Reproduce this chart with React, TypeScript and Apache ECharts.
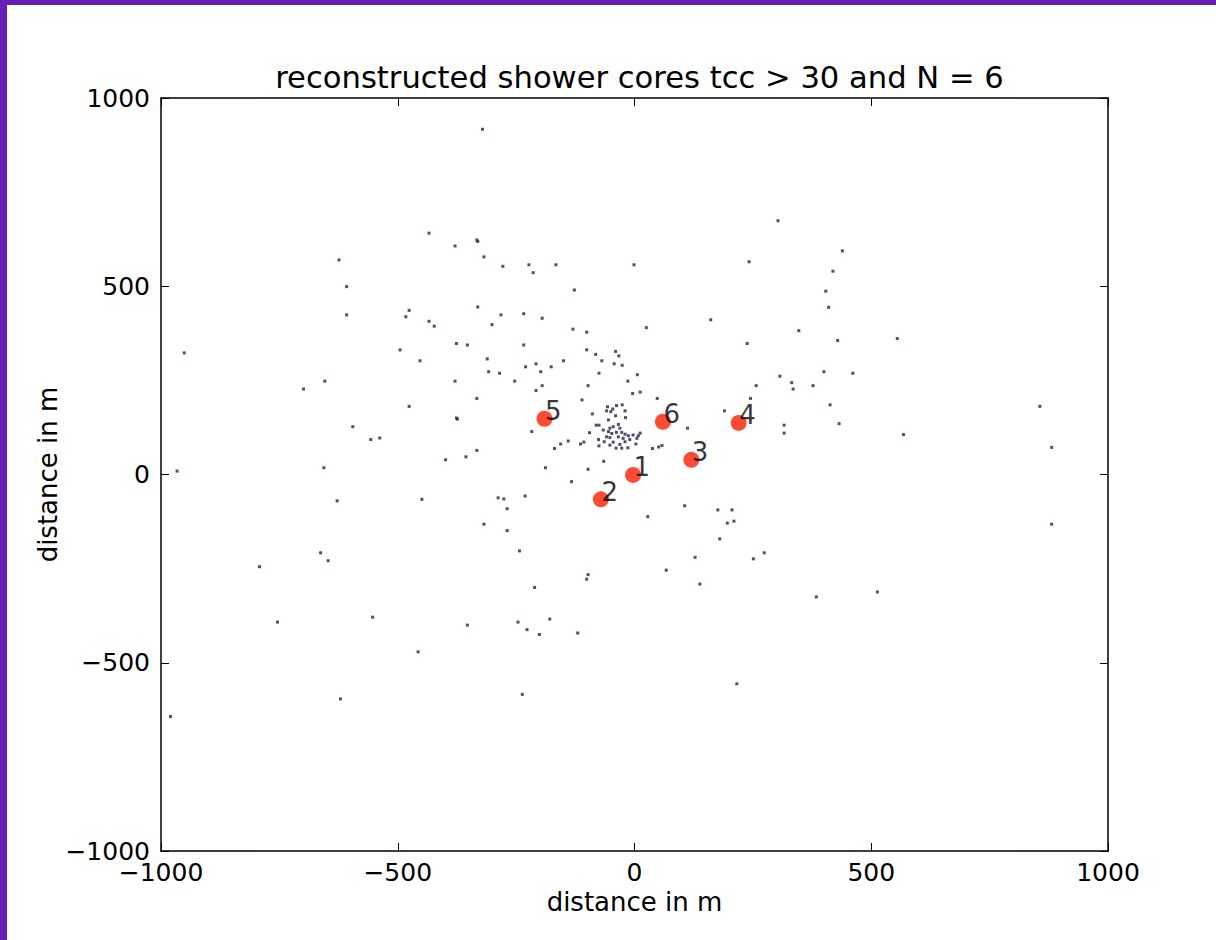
import React, { useEffect, useRef } from 'react';
import * as echarts from 'echarts';

const FONT = 'DejaVu Sans';

const titleText = 'reconstructed shower cores tcc > 30 and N = 6';
const xAxisName = 'distance in m';
const yAxisName = 'distance in m';
const tickValues = [-1000, -500, 0, 500, 1000];

// individual reconstructed shower cores (x, y in m)
const reconstructedCores: [number, number][] = [
  [-434, 641], [-379, 607], [-333, 623], [-331, 619], [-624, 570], [-608, 499], [-608, 424], [-476, 436],
  [-483, 419], [-434, 407], [-423, 394], [-331, 445], [-376, 348], [-353, 344], [-495, 331], [-951, 323],
  [-321, 917], [303, 674], [-318, 578], [-278, 553], [-223, 557], [-214, 536], [-166, 557], [-1, 557],
  [242, 565], [-127, 490], [-282, 424], [-234, 427], [-195, 415], [-301, 398], [-130, 386], [-101, 378],
  [25, 390], [161, 411], [347, 382], [-234, 344], [-101, 331], [-82, 319], [-40, 327], [-33, 315],
  [238, 348], [439, 594], [419, 540], [404, 487], [410, 444], [429, 356], [555, 361],
  [-453, 302], [-654, 248], [-699, 227], [-379, 248], [-333, 202], [-476, 181], [-374, 147], [-376, 150],
  [-595, 127], [-557, 93], [-538, 97], [-333, 64], [-356, 47], [-399, 39], [-966, 9], [-656, 18],
  [-628, -70], [-449, -66], [-663, -208], [-647, -229], [-792, -245],
  [400, 273], [461, 269], [332, 244], [335, 227], [377, 236], [413, 185], [432, 135], [568, 106],
  [856, 181], [881, 72], [881, -132], [384, -325], [513, -312],
  [-311, 307], [-69, 302], [-150, 302], [-208, 294], [-230, 286], [-176, 286], [-43, 294], [-26, 290],
  [-308, 273], [-285, 269], [-198, 273], [-75, 269], [6, 265], [-253, 248], [-14, 248], [-195, 236],
  [-208, 223], [-98, 236], [-4, 215], [12, 219], [-111, 198], [48, 202], [307, 261], [257, 236],
  [245, 202], [190, 169], [316, 131], [316, 110], [112, 123], [-217, 114], [-169, 69], [-156, 81],
  [-140, 89], [-114, 81], [-107, 86], [-65, 35], [-98, 14], [-188, 18], [-133, -19], [-231, -57],
  [-288, -62], [-276, -65], [-269, -91], [-318, -132], [-269, -149], [-243, -203], [-211, -300],
  [-101, -278], [-98, -266], [28, -112], [106, -83], [176, -94], [206, -94], [196, -129], [210, -124],
  [180, -171], [128, -220], [67, -254], [138, -291], [251, -224], [274, -208], [38, 69], [51, 73],
  [58, 77], [3, 81], [-19, 151],
  [-754, -392], [-553, -379], [-353, -400], [-457, -471], [-621, -596], [-980, -643],
  [-246, -392], [-179, -384], [-227, -412], [-201, -425], [-120, -421], [-237, -584], [216, -556],
  [-26, 185], [-38, 183], [-57, 180], [-46, 174], [-59, 169], [-50, 167], [-20, 169], [-89, 161],
  [-40, 156], [-55, 145], [-81, 131], [-75, 131], [-34, 133], [-45, 127], [-52, 123], [-31, 123],
  [-95, 111], [-66, 118], [-55, 114], [-48, 109], [-38, 112], [-27, 112], [-20, 107], [-13, 103],
  [-3, 105], [8, 103], [5, 96], [-59, 100], [-52, 98], [-34, 100], [-24, 96], [-76, 93],
  [-64, 87], [-45, 86], [-20, 87], [-10, 93], [-52, 78], [-31, 80], [-75, 76], [-39, 70],
  [-27, 70], [-14, 71], [12, 110],
];

// station positions (N = 6) with their labels
const stationLabels = ['1', '2', '3', '4', '5', '6'];
const stationX = [-3, -71, 120, 220, -190, 60];
const stationY = [-1, -66, 39, 137, 148, 140];

const minus = (v: number) => String(v).replace('-', '\u2212');

export default function App() {
  const ref = useRef<HTMLDivElement>(null);
  useEffect(() => {
    const chart = echarts.init(ref.current!, null, { renderer: 'svg' });
    const frameLine = { show: true, onZero: false, lineStyle: { color: '#000', width: 1.5 } };
    const tick = { show: true, inside: true, length: 8, lineStyle: { color: '#000', width: 1 } };
    const tickStyle = { color: '#000', fontSize: 25, fontFamily: FONT };
    const nameStyle = { color: '#000', fontSize: 26, fontFamily: FONT };
    chart.setOption({
      animation: false,
      backgroundColor: '#ffffff',
      textStyle: { fontFamily: FONT },
      title: {
        text: titleText,
        left: 634.5,
        top: 57,
        textAlign: 'center',
        textStyle: { color: '#000', fontSize: 30.6, fontWeight: 'normal', fontFamily: FONT },
      },
      grid: { left: 161, right: 108, top: 98, bottom: 89, containLabel: false },
      xAxis: [
        {
          type: 'value', min: tickValues[0], max: tickValues[tickValues.length - 1], interval: 500,
          position: 'bottom', axisLine: frameLine, axisTick: tick, splitLine: { show: false },
          axisLabel: { ...tickStyle, margin: 9, formatter: minus },
          name: xAxisName, nameLocation: 'middle', nameGap: 38, nameMoveOverlap: false,
          nameTextStyle: { ...nameStyle },
        },
        {
          type: 'value', min: tickValues[0], max: tickValues[tickValues.length - 1], interval: 500,
          position: 'top', axisLine: frameLine, axisTick: tick, splitLine: { show: false },
          axisLabel: { show: false },
        },
      ],
      yAxis: [
        {
          type: 'value', min: tickValues[0], max: tickValues[tickValues.length - 1], interval: 500,
          position: 'left', axisLine: frameLine, axisTick: tick, splitLine: { show: false },
          axisLabel: { ...tickStyle, margin: 11, formatter: minus },
          name: yAxisName, nameLocation: 'middle', nameGap: 100, nameMoveOverlap: false,
          nameTextStyle: { ...nameStyle },
        },
        {
          type: 'value', min: tickValues[0], max: tickValues[tickValues.length - 1], interval: 500,
          position: 'right', axisLine: frameLine, axisTick: tick, splitLine: { show: false },
          axisLabel: { show: false },
        },
      ],
      graphic: [
        { type: 'rect', shape: { x: 0, y: 0, width: 1216, height: 5 }, style: { fill: '#661fb2' }, silent: true },
        { type: 'rect', shape: { x: 0, y: 0, width: 7, height: 940 }, style: { fill: '#661fb2' }, silent: true },
      ],
      series: [
        {
          type: 'scatter',
          xAxisIndex: 0,
          yAxisIndex: 0,
          symbol: 'rect',
          symbolSize: 3,
          itemStyle: { color: '#23234c' },
          data: reconstructedCores,
          z: 2,
        },
        {
          type: 'scatter',
          xAxisIndex: 0,
          yAxisIndex: 0,
          symbol: 'circle',
          symbolSize: 16,
          itemStyle: { color: '#ff1e00' },
          data: stationLabels.map((n, i) => ({ name: n, value: [stationX[i], stationY[i]] })),
          label: {
            show: true,
            formatter: (p: any) => p.name,
            position: [8.5, 13.5],
            align: 'left',
            verticalAlign: 'bottom',
            color: '#000',
            fontSize: 26,
            lineHeight: 26,
            fontFamily: FONT,
          },
          z: 3,
        },
      ],
    });
    return () => chart.dispose();
  }, []);
  return (
    <div
      ref={ref}
      style={{ position: 'absolute', left: 0, top: 0, width: 1216, height: 940, background: '#fff' }}
    />
  );
}
